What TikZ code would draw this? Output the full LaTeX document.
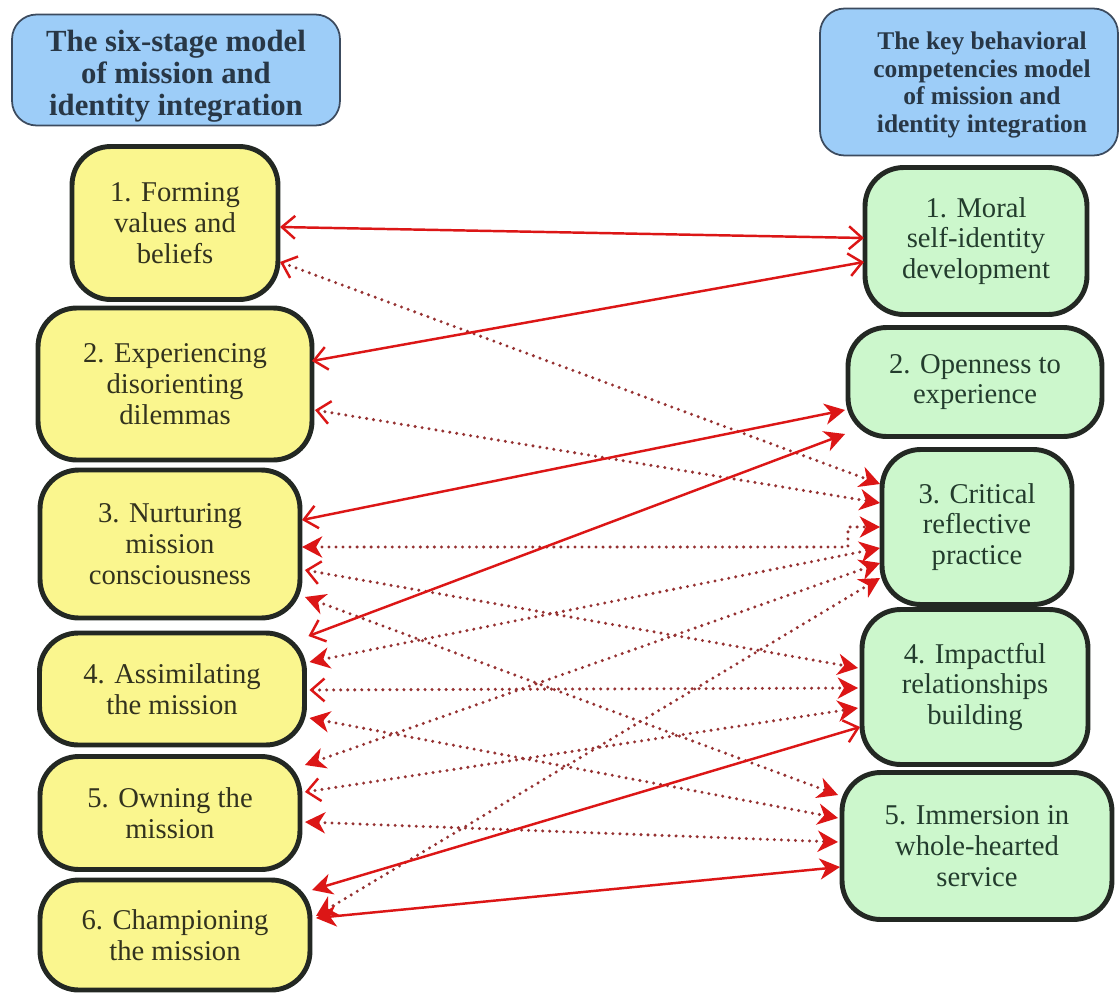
\documentclass[tikz,border=0pt]{standalone}
\usepackage{fontspec}
\setmainfont{Liberation Serif}
\usetikzlibrary{arrows.meta,calc}

\definecolor{boxyellow}{RGB}{250,246,142}
\definecolor{boxgreen}{RGB}{204,247,204}
\definecolor{headblue}{RGB}{157,205,248}
\definecolor{headedge}{RGB}{60,75,95}
\definecolor{headtext}{RGB}{40,55,70}
\definecolor{boxedge}{RGB}{35,40,35}
\definecolor{linkred}{RGB}{220,22,22}
\definecolor{dotred}{RGB}{150,50,50}
\definecolor{yellowtext}{RGB}{50,50,30}
\definecolor{greentext}{RGB}{35,60,45}

\tikzset{
  stage/.style={draw=boxedge, line width=2.8pt, fill=boxyellow, rounded corners=22pt,
    align=center, text=yellowtext, font=\fontsize{16.3}{17.5}\selectfont,
    inner sep=0pt, outer sep=0pt},
  comp/.style={stage, fill=boxgreen, text=greentext},
  header/.style={draw=headedge, line width=1pt, fill=headblue, rounded corners=14pt,
    inner sep=0pt, outer sep=0pt},
  headtitle/.style={align=center, text=headtext, inner sep=0pt},
  opentip/.tip={Straight Barb[length=7.5pt,width=13pt,line width=1.4pt,color=linkred]},
  filltip/.tip={Stealth[length=11.5pt,width=12pt,inset=3.5pt,color=linkred]},
  link/.style={draw=linkred, line width=1.4pt},
  dotlink/.style={draw=dotred, line width=1.9pt, dash pattern=on 0pt off 4pt, line cap=round},
}

\begin{document}
\begin{tikzpicture}[x=0.02cm,y=-0.02cm]
\useasboundingbox (0,0) rectangle (1120,994);
\fill[white] (0,0) rectangle (1120,994);

% column headers
\node[header, minimum width=6.56cm, minimum height=2.22cm] (HL) at (176,70) {};
\node[headtitle, font=\bfseries\fontsize{17.5}{18.2}\selectfont] (HLt) at (176,76)
  {The six-stage model\\of mission and\\identity integration};
\node[header, minimum width=5.96cm, minimum height=2.94cm] (HR) at (969,82) {};
\node[headtitle, font=\bfseries\fontsize{14.5}{15.7}\selectfont] (HRt) at (982,85)
  {The key behavioral\\competencies model\\of mission and\\identity integration};

% six stages
\node[stage, minimum width=4.12cm, minimum height=3.06cm] (L1) at (175,223) {1. Forming\\values and\\beliefs};
\node[stage, minimum width=5.48cm, minimum height=3.04cm] (L2) at (175,384) {2. Experiencing\\disorienting\\dilemmas};
\node[stage, minimum width=5.2cm,  minimum height=2.96cm] (L3) at (170,544) {3. Nurturing\\mission\\consciousness};
\node[stage, minimum width=5.3cm,  minimum height=2.24cm] (L4) at (172,689) {4. Assimilating\\the mission};
\node[stage, minimum width=5.2cm,  minimum height=2.26cm] (L5) at (170,813) {5. Owning the\\mission};
\node[stage, minimum width=5.4cm,  minimum height=2.2cm]  (L6) at (175,935) {6. Championing\\the mission};

% behavioral competencies
\node[comp, minimum width=4.44cm, minimum height=2.94cm] (R1) at (976,241) {1. Moral\\self-identity\\development};
\node[comp, minimum width=5.08cm, minimum height=2.18cm] (R2) at (975,382) {2. Openness to\\experience};
\node[comp, minimum width=3.8cm,  minimum height=3.1cm]  (R3) at (977,527) {3. Critical\\reflective\\practice};
\node[comp, minimum width=4.52cm, minimum height=3.1cm]  (R4) at (975,687) {4. Impactful\\relationships\\building};
\node[comp, minimum width=5.4cm,  minimum height=2.94cm] (R5) at (977,846) {5. Immersion in\\whole-hearted\\service};

% dotted links
\draw[dotlink, opentip-filltip] ([shift={(2,39)}]L1.east) -- ([shift={(-2,-43)}]R3.west);
\draw[dotlink, opentip-filltip] ([shift={(3,26)}]L2.east) -- ([shift={(-2,-24)}]R3.west);
\draw[dotlink, filltip-filltip] ([shift={(2,3)}]L3.east) -- ++(546,0) |- ([shift={(-2,0)}]R3.west);
\draw[dotlink, opentip-filltip] ([shift={(5,26)}]L3.east) -- ([shift={(-4,-19)}]R4.west);
\draw[dotlink, filltip-filltip] ([shift={(5,53)}]L3.east) -- ([shift={(-4,-51)}]R5.west);
\draw[dotlink, filltip-filltip] ([shift={(5,-27)}]L4.east) -- ([shift={(-2,21)}]R3.west);
\draw[dotlink, opentip-filltip] ([shift={(5,1)}]L4.east) -- ([shift={(-4,1)}]R4.west);
\draw[dotlink, filltip-filltip] ([shift={(5,29)}]L4.east) -- ([shift={(-4,-28)}]R5.west);
\draw[dotlink, filltip-filltip] ([shift={(5,-48)}]L5.east) -- ([shift={(-2,36)}]R3.west);
\draw[dotlink, opentip-filltip] ([shift={(5,-21)}]L5.east) -- ([shift={(-4,21)}]R4.west);
\draw[dotlink, filltip-filltip] ([shift={(5,9)}]L5.east) -- ([shift={(-4,-4)}]R5.west);
\draw[dotlink, filltip-filltip] ([shift={(6,-19)}]L6.east) -- ([shift={(-2,51)}]R3.west);

% solid links
\draw[link, opentip-opentip] ([shift={(2,4)}]L1.east) -- ([shift={(-1,-3)}]R1.west);
\draw[link, opentip-opentip] ([shift={(0,-23)}]L2.east) -- ([shift={(-1,21)}]R1.west);
\draw[link, opentip-filltip] ([shift={(2,-24)}]L3.east) -- ([shift={(-3,28)}]R2.west);
\draw[link, opentip-filltip] ([shift={(4,-53)}]L4.east) -- ([shift={(-3,52)}]R2.west);
\draw[link, filltip-opentip] ([shift={(2,-45)}]L6.east) -- ([shift={(-2,40)}]R4.west);
\draw[link, filltip-filltip] ([shift={(6,-17)}]L6.east) -- ([shift={(-2,21)}]R5.west);
\end{tikzpicture}
\end{document}
